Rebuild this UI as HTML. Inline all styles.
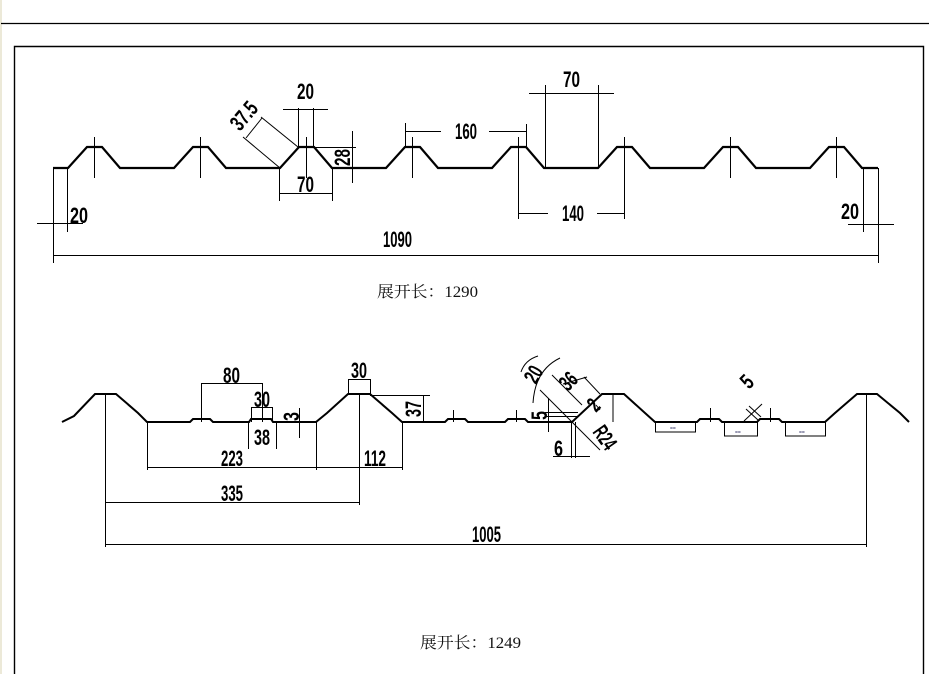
<!DOCTYPE html>
<html><head><meta charset="utf-8"><style>
html,body{margin:0;padding:0;background:#fff;width:929px;height:674px;overflow:hidden}
svg{display:block}
.d{font-family:"Liberation Sans Narrow","Liberation Sans",sans-serif;font-weight:bold;font-size:22px;fill:#000}
.c{font-family:"Liberation Serif","Noto Serif CJK SC","Noto Sans CJK SC",serif;font-size:16px;fill:#111}
</style></head><body>
<svg width="929" height="674" viewBox="0 0 929 674" xmlns="http://www.w3.org/2000/svg">
<rect x="0" y="0" width="2" height="674" fill="#ece9d8"/>
<line x1="1" y1="23.5" x2="929" y2="23.5" stroke="#000" stroke-width="1.2"/>
<polyline points="14.5,674 14.5,46.5 923.5,46.5 923.5,674" fill="none" stroke="#000" stroke-width="1.4"/>

<!-- TOP PROFILE -->
<polyline fill="none" stroke="#000" stroke-width="2.2" points="53,168 68,168 87,147 102,147 120,168 174,168 193,147 208,147 226,168 280,168 299,147 314,147 332,168 386,168 405,147 420,147 438,168 492,168 511,147 526,147 544,168 598,168 617,147 632,147 650,168 704,168 723,147 738,147 756,168 810,168 829,147 844,147 862,168 878,168"/>
<g stroke="#000" stroke-width="1" fill="none">
<line x1="94.5" y1="137" x2="94.5" y2="178"/><line x1="200.5" y1="137" x2="200.5" y2="178"/>
<line x1="306.5" y1="137" x2="306.5" y2="178"/><line x1="412.5" y1="137" x2="412.5" y2="178"/>
<line x1="518.5" y1="137" x2="518.5" y2="219"/><line x1="624.5" y1="137" x2="624.5" y2="219"/>
<line x1="730.5" y1="137" x2="730.5" y2="178"/><line x1="836.5" y1="137" x2="836.5" y2="178"/>
<line x1="53.5" y1="168" x2="53.5" y2="263"/><line x1="67.5" y1="168" x2="67.5" y2="232"/>
<line x1="37" y1="223.5" x2="83" y2="223.5"/>
<line x1="53" y1="255.5" x2="878" y2="255.5"/>
<line x1="878.5" y1="168" x2="878.5" y2="263"/><line x1="863.5" y1="168" x2="863.5" y2="232"/>
<line x1="848" y1="224.5" x2="894" y2="224.5"/>
<line x1="298.5" y1="108" x2="298.5" y2="147"/><line x1="313.5" y1="108" x2="313.5" y2="147"/>
<line x1="283" y1="109.5" x2="328" y2="109.5"/>
<line x1="352.5" y1="131" x2="352.5" y2="183"/><line x1="313" y1="147.5" x2="356" y2="147.5"/>
<line x1="279.5" y1="168" x2="279.5" y2="201"/><line x1="332.5" y1="168" x2="332.5" y2="201"/>
<line x1="279" y1="193.5" x2="332" y2="193.5"/>
<line x1="298" y1="147" x2="261" y2="117"/><line x1="280" y1="168" x2="243" y2="137"/>
<line x1="262" y1="118" x2="246" y2="138"/>
<line x1="405.5" y1="123" x2="405.5" y2="147"/><line x1="405" y1="131.5" x2="441" y2="131.5"/>
<line x1="489" y1="131.5" x2="527" y2="131.5"/><line x1="526.5" y1="124" x2="526.5" y2="147"/>
<line x1="545.5" y1="85" x2="545.5" y2="168"/><line x1="598.5" y1="85" x2="598.5" y2="168"/>
<line x1="529" y1="93.5" x2="614" y2="93.5"/>
<line x1="518" y1="213.5" x2="548" y2="213.5"/><line x1="597" y1="213.5" x2="624" y2="213.5"/>
</g>
<text class="d" x="70" y="223" textLength="18" lengthAdjust="spacingAndGlyphs">20</text>
<text class="d" x="841" y="219" textLength="18" lengthAdjust="spacingAndGlyphs">20</text>
<text class="d" x="383" y="247" textLength="29" lengthAdjust="spacingAndGlyphs">1090</text>
<text class="d" x="297" y="99" textLength="17" lengthAdjust="spacingAndGlyphs">20</text>
<text class="d" x="297" y="192" textLength="17" lengthAdjust="spacingAndGlyphs">70</text>
<text class="d" x="455" y="139" textLength="22" lengthAdjust="spacingAndGlyphs">160</text>
<text class="d" x="563" y="87" textLength="17" lengthAdjust="spacingAndGlyphs">70</text>
<text class="d" x="562" y="221" textLength="22" lengthAdjust="spacingAndGlyphs">140</text>
<text class="d" transform="translate(350,166) rotate(-90)" x="0" y="0" textLength="17" lengthAdjust="spacingAndGlyphs">28</text>
<text class="d" transform="translate(240,132) rotate(-50)" x="0" y="0" textLength="30" lengthAdjust="spacingAndGlyphs">37.5</text>
<text class="c" x="377" y="297" textLength="101" lengthAdjust="spacingAndGlyphs">展开长：1290</text>

<!-- BOTTOM PROFILE -->
<polyline fill="none" stroke="#000" stroke-width="2" points="62,422 74,416 95,394 116,394 138,413 147,422 190,422 193,419 210,419 213,422 249,422 251,419 271,419 273,422 316,422 327,413 348,394 370,394 392,413 402,422 445,422 448,419 465,419 468,422 505,422 508,419 525,419 528,422 572,422 602,394 624,394 645,413 655,422 697,422 700,419 719,419 722,422 757,422 760,419 779,419 782,422 825,422 835,413 857,394 877,394 900,413 909,422"/>
<g stroke="#000" stroke-width="1" fill="none">
<line x1="105.5" y1="394" x2="105.5" y2="547"/>
<line x1="105" y1="544.5" x2="866" y2="544.5"/>
<line x1="866.5" y1="394" x2="866.5" y2="547"/>
<line x1="105" y1="502.5" x2="359" y2="502.5"/>
<line x1="359.5" y1="394" x2="359.5" y2="505"/>
<line x1="147" y1="467.5" x2="402" y2="467.5"/>
<line x1="147.5" y1="422" x2="147.5" y2="470"/><line x1="316.5" y1="422" x2="316.5" y2="470"/><line x1="402.5" y1="422" x2="402.5" y2="470"/>
<line x1="201" y1="383.5" x2="263" y2="383.5"/><line x1="201.5" y1="383" x2="201.5" y2="422"/><line x1="262.5" y1="383" x2="262.5" y2="422"/>
<line x1="251.5" y1="407" x2="251.5" y2="422"/><line x1="272.5" y1="407" x2="272.5" y2="422"/><line x1="251" y1="407.5" x2="273" y2="407.5"/>
<line x1="248.5" y1="422" x2="248.5" y2="449"/><line x1="276.5" y1="422" x2="276.5" y2="449"/>
<line x1="299.5" y1="408" x2="299.5" y2="438"/>
<line x1="348.5" y1="379" x2="348.5" y2="394"/><line x1="370.5" y1="379" x2="370.5" y2="394"/><line x1="348" y1="379.5" x2="370" y2="379.5"/>
<line x1="423.5" y1="395" x2="423.5" y2="422"/><line x1="370" y1="395.5" x2="430" y2="395.5"/>
<line x1="453.5" y1="410" x2="453.5" y2="422"/><line x1="516.5" y1="410" x2="516.5" y2="422"/>
<line x1="710.5" y1="408" x2="710.5" y2="422"/><line x1="770.5" y1="408" x2="770.5" y2="422"/>
<line x1="548.5" y1="398" x2="548.5" y2="432"/>
<line x1="545" y1="412.5" x2="578" y2="412.5"/><line x1="545" y1="416.5" x2="578" y2="416.5"/>
<line x1="571.5" y1="422" x2="571.5" y2="458"/><line x1="575.5" y1="422" x2="575.5" y2="458"/>
<line x1="553" y1="456.5" x2="590" y2="456.5"/>
<line x1="572" y1="422" x2="600" y2="450"/>
<line x1="572" y1="422" x2="540" y2="390"/><line x1="582" y1="405" x2="552" y2="375"/>
<line x1="600" y1="394" x2="584" y2="377"/><line x1="563" y1="384" x2="587" y2="377"/>
<line x1="596" y1="405" x2="600" y2="410"/>
<line x1="613" y1="394" x2="613" y2="422"/>
<path d="M533,403 Q535,370 560,358" /><path d="M521,372 Q525,360 538,356"/>
<line x1="744" y1="421" x2="762" y2="404"/><line x1="746" y1="409" x2="758" y2="420"/><line x1="749" y1="406" x2="761" y2="417"/>
<polyline points="655.5,422 655.5,432 695.5,432 695.5,422"/>
<polyline points="724.5,422 724.5,436 757.5,436 757.5,422"/>
<polyline points="785.5,422 785.5,436 825.5,436 825.5,422"/>
</g>
<g font-family="Liberation Sans" font-size="5" fill="#336">
<text x="670" y="430">== </text><text x="735" y="434">== </text><text x="799" y="434">== </text>
</g>
<text class="d" x="223" y="383" textLength="17" lengthAdjust="spacingAndGlyphs">80</text>
<text class="d" x="254" y="407" textLength="16" lengthAdjust="spacingAndGlyphs">30</text>
<text class="d" x="254" y="445" textLength="16" lengthAdjust="spacingAndGlyphs">38</text>
<text class="d" x="351" y="378" textLength="16" lengthAdjust="spacingAndGlyphs">30</text>
<text class="d" x="221" y="466" textLength="22" lengthAdjust="spacingAndGlyphs">223</text>
<text class="d" x="364" y="466" textLength="22" lengthAdjust="spacingAndGlyphs">112</text>
<text class="d" x="221" y="501" textLength="22" lengthAdjust="spacingAndGlyphs">335</text>
<text class="d" x="472" y="542" textLength="29" lengthAdjust="spacingAndGlyphs">1005</text>
<text class="d" x="554" y="456" textLength="9" lengthAdjust="spacingAndGlyphs">6</text>
<text class="d" transform="translate(299,421) rotate(-90)" textLength="9" lengthAdjust="spacingAndGlyphs">3</text>
<text class="d" transform="translate(421,417) rotate(-90)" textLength="16" lengthAdjust="spacingAndGlyphs">37</text>
<text class="d" transform="translate(547,420) rotate(-90)" textLength="9" lengthAdjust="spacingAndGlyphs">5</text>
<text class="d" transform="translate(536,385) rotate(-60)" textLength="16" lengthAdjust="spacingAndGlyphs">20</text>
<text class="d" transform="translate(568,392) rotate(-45)" textLength="16" lengthAdjust="spacingAndGlyphs">36</text>
<text class="d" transform="translate(596,413) rotate(-45)" textLength="8" lengthAdjust="spacingAndGlyphs">2</text>
<text class="d" transform="translate(592,432) rotate(55)" textLength="24" lengthAdjust="spacingAndGlyphs">R24</text>
<text class="d" transform="translate(749,390) rotate(-45)" textLength="9" lengthAdjust="spacingAndGlyphs">5</text>
<text class="c" x="420" y="648" textLength="101" lengthAdjust="spacingAndGlyphs">展开长：1249</text>
</svg>
</body></html>
